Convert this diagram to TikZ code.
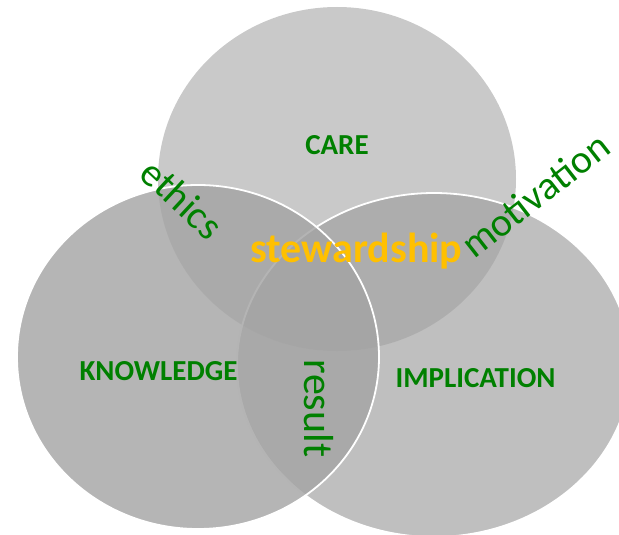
\documentclass[tikz,border=0pt]{standalone}
\usepackage{fontspec}
\setmainfont{Carlito}
\definecolor{topc}{RGB}{201,201,201}
\definecolor{rightc}{RGB}{159,159,159}
\definecolor{leftc}{RGB}{164,164,164}
\definecolor{leafgreen}{RGB}{0,128,0}
\definecolor{gold}{RGB}{255,192,0}
\tikzset{
  capword/.style={inner sep=0pt, text=leafgreen, font=\fontsize{29}{34}\selectfont\bfseries},
  linkword/.style={inner sep=0pt, text=leafgreen, font=\fontsize{40}{46}\selectfont},
  coreword/.style={inner sep=0pt, text=gold, font=\fontsize{42}{48}\selectfont\bfseries},
  rimline/.style={draw=white, line width=1.8pt}
}
\begin{document}
\begin{tikzpicture}[x=1pt,y=-1pt]
\useasboundingbox (0,0) rectangle (619,535);
% circles
\fill[topc] (337,179) ellipse [x radius=179, y radius=172];
\path[fill=rightc, fill opacity=0.667, rimline] (434,365) ellipse [x radius=197, y radius=172];
\path[fill=leftc, fill opacity=0.815, rimline] (198,357) ellipse [x radius=181, y radius=172];
% labels
\node[capword] (care) at (337,145.5) {CARE};
\node[capword] (knowledge) at (158.5,371.5) {KNOWLEDGE};
\node[capword] (implication) at (475.5,378) {IMPLICATION};
\node[coreword, anchor=base] (stewardship) at (356.5,262) {stewardship};
\node[linkword, rotate=-43] (ethics) at (182,199) {ethics};
\node[linkword, rotate=38] (motivation) at (535,195) {motivation};
\node[linkword, rotate=-90, font=\fontsize{42}{48}\selectfont] (result) at (319,408.5) {result};
\end{tikzpicture}
\end{document}
